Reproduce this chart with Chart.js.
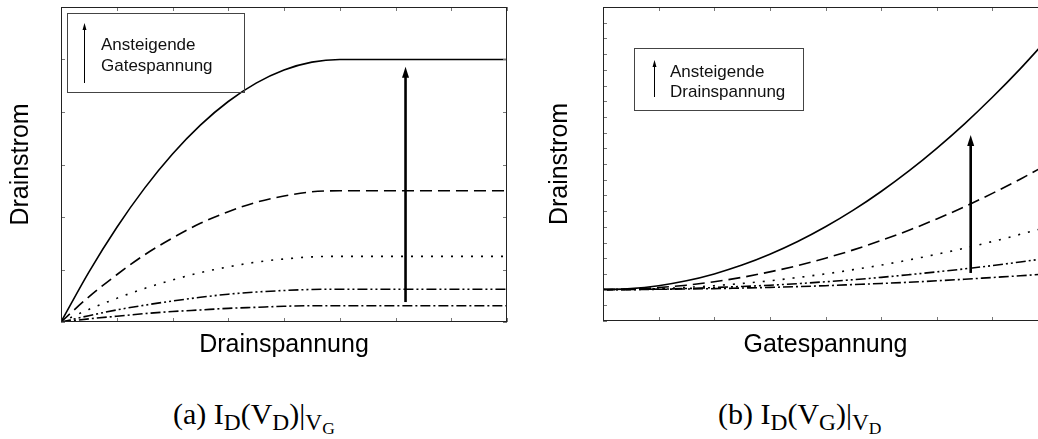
<!DOCTYPE html>
<html>
<head>
<meta charset="utf-8">
<script src="https://cdn.jsdelivr.net/npm/chart.js@4.4.1/dist/chart.umd.min.js"></script>
<style>
  html, body { margin: 0; padding: 0; background: #fff; overflow: hidden; }
  body { width: 1038px; height: 439px; position: relative; }
  canvas { position: absolute; top: 0; }
  #chartA { left: 0; }
  #chartB { left: 520px; }
  .cap { position: absolute; top: 397px; font-family: 'Liberation Serif', serif; font-size: 30px; line-height: 34px; color: #000; white-space: nowrap; }
  .cap .s { font-size: 0.78em; position: relative; top: 0.27em; }
  .cap .ss { font-size: 0.75em; position: relative; top: 0.22em; }
</style>
</head>
<body>
<canvas id="chartA" width="520" height="380"></canvas>
<canvas id="chartB" width="540" height="380"></canvas>
<div class="cap" style="left:173px">(a) I<span class="s">D</span>(V<span class="s">D</span>)|<span class="s">V<span class="ss">G</span></span></div>
<div class="cap" style="left:718px">(b) I<span class="s">D</span>(V<span class="s">G</span>)|<span class="s">V<span class="ss">D</span></span></div>
<script>
// x positions shared by both panels (arbitrary units, 8 tick intervals)
const xValues = [0, 0.5, 1, 1.5, 2, 2.5, 3, 3.5, 4, 4.5, 5, 5.5, 6, 6.5, 7, 7.5, 8];

// (a) Drainstrom vs. Drainspannung, one curve per gate voltage (highest first)
const idVdSolid   = [0, 0.95, 1.8, 2.55, 3.2, 3.75, 4.2, 4.55, 4.8, 4.95, 5, 5, 5, 5, 5, 5, 5];
const idVdDashed  = [0, 0.48, 0.9, 1.28, 1.6, 1.88, 2.1, 2.28, 2.4, 2.48, 2.5, 2.5, 2.5, 2.5, 2.5, 2.5, 2.5];
const idVdDotted  = [0, 0.24, 0.45, 0.64, 0.8, 0.94, 1.05, 1.14, 1.2, 1.24, 1.25, 1.25, 1.25, 1.25, 1.25, 1.25, 1.25];
const idVdDashDD  = [0, 0.12, 0.23, 0.32, 0.4, 0.47, 0.53, 0.57, 0.6, 0.62, 0.625, 0.625, 0.625, 0.625, 0.625, 0.625, 0.625];
const idVdDashDot = [0, 0.06, 0.11, 0.16, 0.2, 0.23, 0.26, 0.28, 0.3, 0.31, 0.31, 0.31, 0.31, 0.31, 0.31, 0.31, 0.31];

// (b) Drainstrom vs. Gatespannung, one curve per drain voltage (highest first)
const idVgSolid   = [2, 2.06, 2.25, 2.56, 3, 3.56, 4.25, 5.06, 6, 7.06, 8.25, 9.56, 11, 12.56, 14.25, 16.06, 18];
const idVgDashed  = [2, 2.03, 2.13, 2.28, 2.5, 2.78, 3.13, 3.53, 4, 4.53, 5.13, 5.78, 6.5, 7.28, 8.13, 9.03, 10];
const idVgDotted  = [2, 2.02, 2.06, 2.14, 2.25, 2.39, 2.56, 2.77, 3, 3.27, 3.56, 3.89, 4.25, 4.64, 5.06, 5.52, 6];
const idVgDashDD  = [2, 2.01, 2.03, 2.07, 2.13, 2.2, 2.28, 2.38, 2.5, 2.63, 2.78, 2.95, 3.13, 3.32, 3.53, 3.76, 4];
const idVgDashDot = [2, 2, 2.02, 2.04, 2.06, 2.1, 2.14, 2.19, 2.25, 2.32, 2.39, 2.47, 2.56, 2.66, 2.77, 2.88, 3];

// big "rising" arrows, in data units
const arrowA = { x: 6.18, from: 0.38, to: 4.86 };
const arrowB = { x: 6.61, from: 3.06, to: 11.85 };

const FONT = "'Liberation Sans', Arial, Helvetica, sans-serif";
const dashes = [[], [12, 6], [2, 8], [10, 3, 2, 3, 2, 3], [10, 3, 2, 3]];

function makeDatasets(seriesList) {
  return seriesList.map((ys, i) => ({
    data: xValues.map((x, k) => ({ x, y: ys[k] })),
    borderColor: '#000',
    borderWidth: 1.6,
    borderDash: dashes[i],
    pointRadius: 0,
    fill: false,
    cubicInterpolationMode: 'monotone',
  }));
}

// frame + small inward ticks, arrows and the little legend box
const mosfetNotes = {
  id: 'mosfetNotes',
  afterDatasetsDraw(chart, args, o) {
    const { ctx, chartArea: a, scales } = chart;
    const sx = scales.x, sy = scales.y;
    ctx.save();

    // inward tick marks
    ctx.strokeStyle = '#777';
    ctx.lineWidth = 1;
    ctx.beginPath();
    sx.ticks.forEach(t => {
      const px = Math.round(sx.getPixelForValue(t.value)) + 0.5;
      ctx.moveTo(px, a.bottom); ctx.lineTo(px, a.bottom - 4);
      ctx.moveTo(px, a.top);    ctx.lineTo(px, a.top + 4);
    });
    sy.ticks.forEach(t => {
      const py = Math.round(sy.getPixelForValue(t.value)) + 0.5;
      ctx.moveTo(a.left, py);  ctx.lineTo(a.left + 4, py);
      ctx.moveTo(a.right, py); ctx.lineTo(a.right - 4, py);
    });
    ctx.stroke();

    // frame
    ctx.strokeStyle = '#222';
    ctx.strokeRect(a.left + 0.5, a.top + 0.5, a.right - a.left - 1, a.bottom - a.top - 1);

    // big arrow
    const ar = o.arrow;
    const ax = sx.getPixelForValue(ar.x);
    const yFrom = sy.getPixelForValue(ar.from), yTo = sy.getPixelForValue(ar.to);
    ctx.strokeStyle = '#000';
    ctx.fillStyle = '#000';
    ctx.lineWidth = 2.6;
    ctx.beginPath();
    ctx.moveTo(ax, yFrom); ctx.lineTo(ax, yTo + 9);
    ctx.stroke();
    ctx.beginPath();
    ctx.moveTo(ax, yTo); ctx.lineTo(ax - 3.5, yTo + 11); ctx.lineTo(ax + 3.5, yTo + 11);
    ctx.closePath(); ctx.fill();

    // legend box
    const lb = o.box;
    ctx.strokeStyle = '#444';
    ctx.lineWidth = 1;
    ctx.strokeRect(a.left + lb.dx + 0.5, a.top + lb.dy + 0.5, lb.w, lb.h);
    const lx = a.left + lb.arrowDx + 0.5;
    ctx.strokeStyle = '#000';
    ctx.beginPath();
    ctx.moveTo(lx, a.top + lb.arrowBottom); ctx.lineTo(lx, a.top + lb.arrowTop + 5);
    ctx.stroke();
    ctx.beginPath();
    ctx.moveTo(lx, a.top + lb.arrowTop); ctx.lineTo(lx - 2, a.top + lb.arrowTop + 7); ctx.lineTo(lx + 2, a.top + lb.arrowTop + 7);
    ctx.closePath(); ctx.fill();
    ctx.font = '17px ' + FONT;
    ctx.fillStyle = '#111';
    ctx.textBaseline = 'alphabetic';
    lb.lines.forEach((txt, i) => ctx.fillText(txt, a.left + lb.textDx, a.top + lb.baselines[i]));

    ctx.restore();
  }
};

function makeChart(id, cfg) {
  return new Chart(document.getElementById(id), {
    type: 'line',
    data: { datasets: makeDatasets(cfg.series) },
    plugins: [mosfetNotes],
    options: {
      responsive: false,
      animation: false,
      events: [],
      layout: { padding: { left: 0, top: 7, right: cfg.padRight, bottom: 0 } },
      plugins: {
        legend: { display: false },
        tooltip: { enabled: false },
        mosfetNotes: { arrow: cfg.arrow, box: cfg.box },
      },
      scales: {
        x: {
          type: 'linear', min: 0, max: 8,
          ticks: { display: false, stepSize: 1 },
          grid: { display: false },
          border: { display: false },
          title: { display: true, text: cfg.xTitle, color: '#000',
                   font: { family: FONT, size: 25, lineHeight: 1 }, padding: { top: 0, bottom: 22 } },
          afterFit: s => { s.height = cfg.xAxisH; },
        },
        y: {
          type: 'linear', min: 0, max: cfg.yMax,
          ticks: { display: false, stepSize: 1 },
          grid: { display: false },
          border: { display: false },
          title: { display: true, text: 'Drainstrom', color: '#000',
                   font: { family: FONT, size: 25, lineHeight: 1 }, padding: { top: cfg.yTitlePad, bottom: 0 } },
          afterFit: s => { s.width = cfg.yAxisW; },
        },
      },
    },
  });
}

makeChart('chartA', {
  series: [idVdSolid, idVdDashed, idVdDotted, idVdDashDD, idVdDashDot],
  xTitle: 'Drainspannung',
  yMax: 6,
  padRight: 13, xAxisH: 58, yAxisW: 61, yTitlePad: 9,
  arrow: arrowA,
  box: { dx: 6, dy: 6, w: 177, h: 79, arrowDx: 23, arrowTop: 16, arrowBottom: 76,
         textDx: 40, lines: ['Ansteigende', 'Gatespannung'], baselines: [43, 64] },
});

makeChart('chartB', {
  series: [idVgSolid, idVgDashed, idVgDotted, idVgDashDD, idVgDashDot],
  xTitle: 'Gatespannung',
  yMax: 20,
  padRight: 12, xAxisH: 59, yAxisW: 83, yTitlePad: 28,
  arrow: arrowB,
  box: { dx: 31, dy: 41, w: 169, h: 62, arrowDx: 51, arrowTop: 53, arrowBottom: 90,
         textDx: 67, lines: ['Ansteigende', 'Drainspannung'], baselines: [70, 90] },
});
</script>
</body>
</html>
